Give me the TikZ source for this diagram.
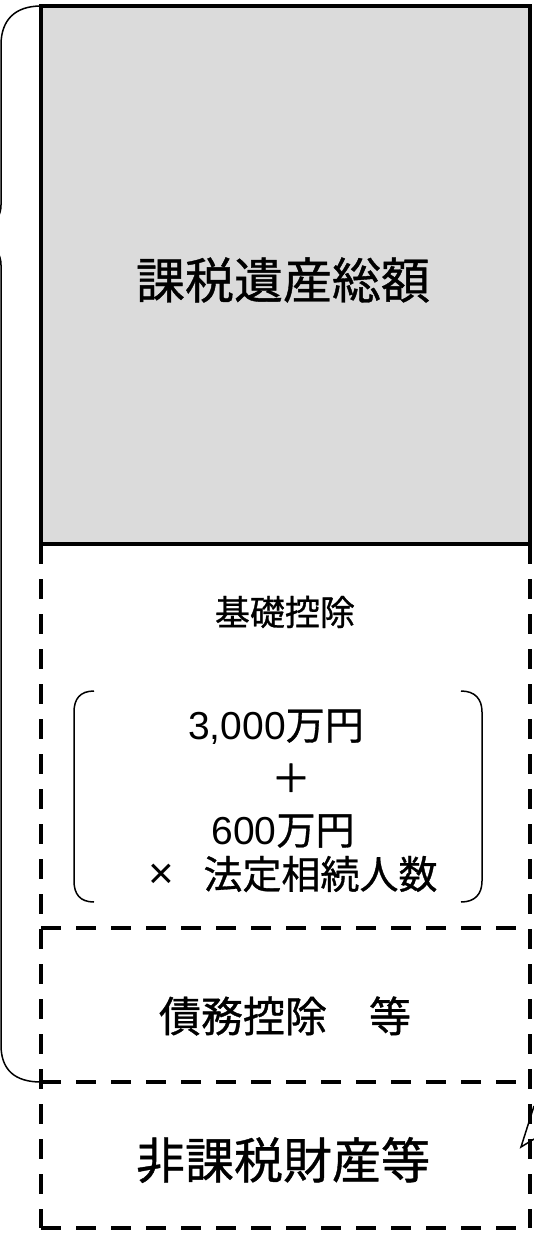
\documentclass[tikz,border=0pt]{standalone}
\usepackage{fontspec}
\setmainfont{Liberation Sans}
\newfontfamily\cjk{Noto Sans CJK JP}[FakeBold=0.8]
\begin{document}
\begin{tikzpicture}[x=1pt,y=-1pt,
  solidedge/.style={line width=4pt,line cap=rect},
  dashedge/.style={line width=4pt,dash pattern=on 20pt off 15pt},
  thinline/.style={line width=1.5pt},
  lbl/.style={inner sep=0pt,anchor=center}]
\useasboundingbox (0,0) rectangle (534,1235);
\clip (0,0) rectangle (534,1235);
% coordinates
\coordinate (tl) at (41,6);
\coordinate (tr) at (530,6);
\coordinate (ml) at (41,544);
\coordinate (mr) at (530,544);
\coordinate (al) at (41,928);
\coordinate (ar) at (530,928);
\coordinate (bl) at (41,1082);
\coordinate (br) at (530,1082);
\coordinate (el) at (41,1228);
\coordinate (er) at (530,1228);
% gray box
\fill[gray!28] (tl) rectangle (mr);
\draw[solidedge] (tl) -- (tr) -- (mr) -- (ml) -- cycle;
% dashed regions
\draw[dashedge] (ml) -- (el);
\draw[dashedge] (mr) -- (er);
\draw[dashedge] (el) -- (er);
\draw[dashedge] (al) -- (ar);
\draw[dashedge] (bl) -- (br);
% brace
\draw[thinline] (tl) .. controls (15,6) and (1,20) .. (1,45) -- (1,205)
  .. controls (1,225) and (-20,235) .. (-30,235)
  .. controls (-20,235) and (1,245) .. (1,265) -- (1,1045)
  .. controls (1,1070) and (15,1082) .. (bl);
% parentheses
\coordinate (pl1) at (94,691);
\coordinate (pl2) at (94,902);
\coordinate (pr1) at (461,691);
\coordinate (pr2) at (461,902);
\draw[thinline] (pl1) .. controls (80,691) and (74,699) .. (74,712) -- (74,881)
  .. controls (74,894) and (80,902) .. (pl2);
\draw[thinline] (pr1) .. controls (475,691) and (482,699) .. (482,712) -- (482,881)
  .. controls (482,894) and (475,902) .. (pr2);
% callout tip
\coordinate (c1) at (534,1106);
\coordinate (c2) at (521,1147);
\coordinate (c3) at (534,1139);
\draw[thinline] (c1) -- (c2) -- (c3);
% texts
\node[lbl] (t1) at (283,280) {\fontsize{49}{49}\selectfont\cjk 課税遺産総額};
\node[lbl] (t2) at (285,612) {\fontsize{35}{35}\selectfont\cjk 基礎控除};
\node[lbl] (t3) at (276,727) {\fontsize{39}{39}\selectfont 3,000{\cjk 万円}};
\node[lbl] (t4) at (291,778) {\fontsize{39}{39}\selectfont\cjk ＋};
\node[lbl] (t5) at (283,831) {\fontsize{39}{39}\selectfont 600{\cjk 万円}};
\node[lbl] (t6) at (293,874) {\fontsize{39}{39}\selectfont{\fontsize{44}{44}\selectfont ×}\hspace{0.75em}{\cjk 法定相続人数}};
\node[lbl] (t7) at (285,1016) {\fontsize{42}{42}\selectfont\cjk 債務控除　等};
\node[lbl] (t8) at (283,1160) {\fontsize{49}{49}\selectfont\cjk 非課税財産等};
\end{tikzpicture}
\end{document}
